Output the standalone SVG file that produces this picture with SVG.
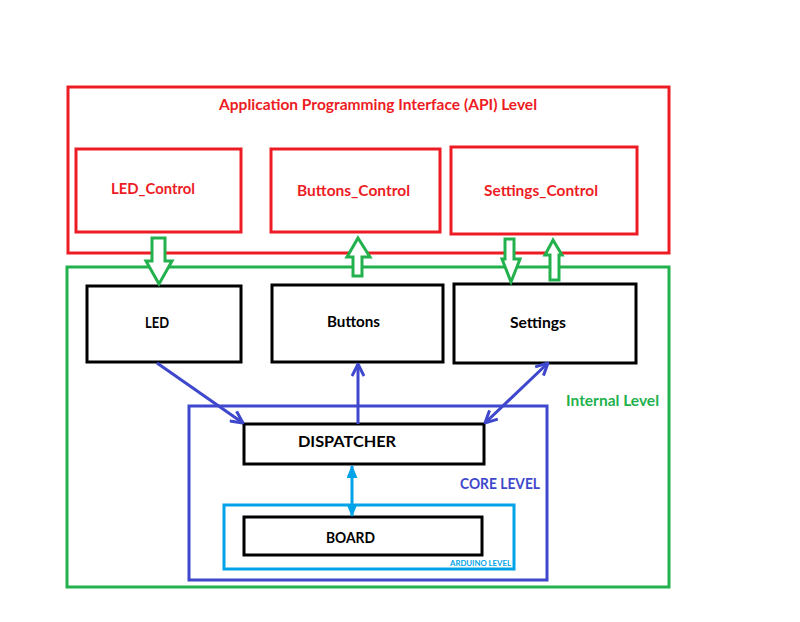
<svg xmlns="http://www.w3.org/2000/svg" width="800" height="622" viewBox="0 0 800 622">
<defs>
<style>
.r{fill:none;stroke:#ed1c24;stroke-width:3}
.g{fill:none;stroke:#22b14c;stroke-width:3}
.b{fill:none;stroke:#3f48cc;stroke-width:3}
.c{fill:none;stroke:#00a2e8;stroke-width:3}
.k{fill:#fff;stroke:#000;stroke-width:3}
text{font-family:Lato,"Liberation Sans",sans-serif;font-weight:bold;text-anchor:middle}
.tr{fill:#ed1c24;font-size:15px}
.tk{fill:#000;font-size:15px}
.tb{fill:#3f48cc;font-size:15px}
.tg{fill:#22b14c;font-size:15px}
.tc{fill:#00a2e8;font-size:7.5px}
.bl{fill:none;stroke:#3f48cc;stroke-width:3}
.cy{fill:none;stroke:#00a2e8;stroke-width:3}
.ga{fill:#fff;stroke:#22b14c;stroke-width:3;stroke-linejoin:miter}
</style>
<marker id="ab" markerUnits="userSpaceOnUse" viewBox="0 0 14 14" refX="13" refY="7" markerWidth="14" markerHeight="14" orient="auto-start-reverse">
<path d="M1,1 L13,7 L1,13" fill="none" stroke="#3f48cc" stroke-width="3"/>
</marker>
<marker id="ac" markerUnits="userSpaceOnUse" viewBox="0 0 13 11" refX="12" refY="5.5" markerWidth="13" markerHeight="11" orient="auto-start-reverse">
<path d="M0,0 L13,5.5 L0,11 z" fill="#00a2e8"/>
</marker>
</defs>
<rect width="800" height="622" fill="#fff"/>

<g id="api-level">
<rect class="r" x="68" y="87" width="601" height="166"/>
<text class="tr" x="378" y="110" textLength="318" lengthAdjust="spacingAndGlyphs">Application Programming Interface (API) Level</text>
</g>
<g id="led-control">
<rect class="r" x="76" y="149" width="165" height="83"/>
<text class="tr" x="153" y="194" textLength="84" lengthAdjust="spacingAndGlyphs">LED_Control</text>
</g>
<g id="buttons-control">
<rect class="r" x="271" y="149" width="169" height="83"/>
<text class="tr" x="353.5" y="196" textLength="113" lengthAdjust="spacingAndGlyphs">Buttons_Control</text>
</g>
<g id="settings-control">
<rect class="r" x="451" y="147" width="186" height="87"/>
<text class="tr" x="541" y="196" textLength="114" lengthAdjust="spacingAndGlyphs">Settings_Control</text>
</g>

<g id="internal-level">
<rect class="g" x="67" y="267" width="602" height="320"/>
<text class="tg" x="612.5" y="406" textLength="93" lengthAdjust="spacingAndGlyphs">Internal Level</text>
</g>
<g id="led">
<rect class="k" x="87" y="286" width="154" height="76"/>
<text class="tk" x="157" y="328" textLength="24" lengthAdjust="spacingAndGlyphs">LED</text>
</g>
<g id="buttons">
<rect class="k" x="272" y="285" width="171" height="77"/>
<text class="tk" x="353.5" y="327" textLength="53" lengthAdjust="spacingAndGlyphs">Buttons</text>
</g>
<g id="settings">
<rect class="k" x="454" y="284" width="182" height="79"/>
<text class="tk" x="538" y="328" textLength="56" lengthAdjust="spacingAndGlyphs">Settings</text>
</g>

<g id="core-level">
<rect class="b" x="189" y="406" width="358" height="174"/>
<text class="tb" x="500" y="489" textLength="80" lengthAdjust="spacingAndGlyphs">CORE LEVEL</text>
</g>
<g id="dispatcher">
<rect class="k" x="244" y="424" width="240" height="40"/>
<text class="tk" x="347" y="447" textLength="98" lengthAdjust="spacingAndGlyphs">DISPATCHER</text>
</g>
<g id="arduino-level">
<rect class="c" x="224" y="505" width="290" height="64"/>
<text class="tc" x="480.5" y="566" textLength="61" lengthAdjust="spacingAndGlyphs">ARDUINO LEVEL</text>
</g>
<g id="board">
<rect class="k" x="244" y="517" width="238" height="38"/>
<text class="tk" x="350.5" y="543" textLength="49" lengthAdjust="spacingAndGlyphs">BOARD</text>
</g>

<g id="connectors">
<path class="ga" d="M152,238 H165 V261 H172 L159,284 L146,261 H152 Z"/>
<path class="ga" d="M358,238 L370,257 H362 V276 H353 V257 H347 Z"/>
<path class="ga" d="M505,239 H514 V259 H520 L511,282 L502,259 H505 Z"/>
<path class="ga" d="M553,240 L562,255 H559 V280 H550 V255 H545 Z"/>
<line class="bl" x1="157" y1="363" x2="243" y2="423" marker-end="url(#ab)"/>
<line class="bl" x1="358" y1="424" x2="358" y2="364" marker-end="url(#ab)"/>
<line class="bl" x1="548" y1="363" x2="485" y2="423" marker-start="url(#ab)" marker-end="url(#ab)"/>
<line class="cy" x1="352" y1="466" x2="352" y2="516" marker-start="url(#ac)" marker-end="url(#ac)"/>
</g>
</svg>
